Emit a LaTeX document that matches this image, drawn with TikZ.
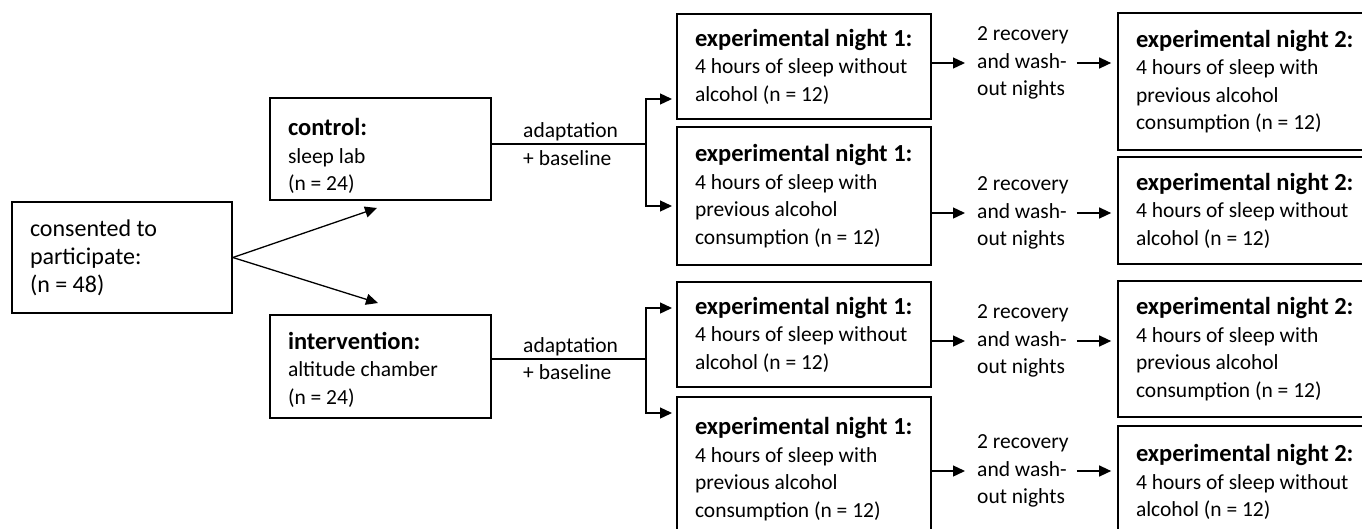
\documentclass[tikz,border=0pt]{standalone}
\usepackage{fontspec}
\setmainfont{Carlito}
\usetikzlibrary{arrows.meta,calc}
\newcommand\hdg[1]{\mbox{\fontsize{24.5}{27.5}\selectfont\bfseries #1}}
\begin{document}
\begin{tikzpicture}[x=1pt,y=-1pt,
  txt/.style={font=\fontsize{21.5}{27.5}\selectfont},
  box/.style={txt, draw, line width=1.7pt, inner xsep=18pt, inner ysep=0pt, align=flush left},
  lbl/.style={txt, inner sep=0pt, align=flush left, anchor=west},
  arr/.style={line width=1.3pt, -{Triangle[length=12pt,width=11pt]}},
  ln/.style={line width=1.3pt}]
\useasboundingbox (0,0) rectangle (1362,528);
\clip (0,0) rectangle (1362,528);

% left column
\node[box, font=\fontsize{24}{28}\selectfont, text width=184pt, minimum height=111pt] (cons) at (122,257.5)
  {consented to\\participate:\\(n = 48)};
\node[box, text width=185pt, minimum height=102pt] (ctrl) at (380.5,149)
  {\rule{0pt}{31pt}\hdg{control:}\\sleep lab\\(n = 24)};
\node[box, text width=185pt, minimum height=103pt] (intv) at (380.5,366.5)
  {\rule{0pt}{23pt}\hdg{intervention:}\\altitude chamber\\(n = 24)};

% experimental night 1
\node[box, text width=218pt, minimum height=105pt] (e1a) at (804,66.5)
  {\hdg{experimental night 1:}\\4 hours of sleep without\\alcohol (n = 12)};
\node[box, text width=218pt, minimum height=138pt] (e1b) at (804,196)
  {\hdg{experimental night 1:}\\4 hours of sleep with\\previous alcohol\\consumption (n = 12)};
\node[box, text width=218pt, minimum height=105pt] (e1c) at (804,334.5)
  {\hdg{experimental night 1:}\\4 hours of sleep without\\alcohol (n = 12)};
\node[box, text width=218pt, minimum height=144pt] (e1d) at (804,469)
  {\hdg{experimental night 1:}\\4 hours of sleep with\\previous alcohol\\consumption (n = 12)};

% experimental night 2
\node[box, text width=221pt, minimum height=137pt] (e2a) at (1246.5,81.5)
  {\hdg{experimental night 2:}\\4 hours of sleep with\\previous alcohol\\consumption (n = 12)};
\node[box, text width=221pt, minimum height=107pt] (e2b) at (1246.5,210.5)
  {\hdg{experimental night 2:}\\4 hours of sleep without\\alcohol (n = 12)};
\node[box, text width=221pt, minimum height=136pt] (e2c) at (1246.5,349)
  {\hdg{experimental night 2:}\\4 hours of sleep with\\previous alcohol\\consumption (n = 12)};
\node[box, text width=221pt, minimum height=112pt] (e2d) at (1246.5,482)
  {\hdg{experimental night 2:}\\4 hours of sleep without\\alcohol (n = 12)};

% consented -> groups
\coordinate (tc) at (377,208);
\coordinate (ti) at (378,303);
\draw[arr] (cons.east) -- (tc);
\draw[arr] (cons.east) -- (ti);

% adaptation + baseline (control)
\node[lbl] (adA) at (523,144) {adaptation\\+ baseline};
\coordinate (sA) at (646,144);
\coordinate (tA1) at (672,99);
\coordinate (tA2) at (672,206);
\draw[ln] (ctrl.east |- sA) -- (sA);
\draw[arr] (sA) |- (tA1);
\draw[arr] (sA) |- (tA2);

% adaptation + baseline (intervention)
\node[lbl] (adB) at (523,358.5) {adaptation\\+ baseline};
\coordinate (sB) at (646,359);
\coordinate (tB1) at (672,308);
\coordinate (tB2) at (672,413);
\draw[ln] (intv.east |- sB) -- (sB);
\draw[arr] (sB) |- (tB1);
\draw[arr] (sB) |- (tB2);

% recovery and wash-out nights
\node[lbl] (rA) at (977,63) {2 recovery\\and wash-\\out nights};
\node[lbl] (rB) at (977,213) {2 recovery\\and wash-\\out nights};
\node[lbl] (rC) at (977,341) {2 recovery\\and wash-\\out nights};
\node[lbl] (rD) at (977,471) {2 recovery\\and wash-\\out nights};

\foreach \a/\r/\b in {e1a/rA/e2a, e1b/rB/e2b, e1c/rC/e2c, e1d/rD/e2d}{
  \draw[arr, shorten >=12pt] (\a.east |- \r.west) -- (\r.west);
  \draw[arr, shorten <=8pt, shorten >=6pt] (\r.east) -- (\b.west |- \r.east);
}
\end{tikzpicture}
\end{document}
